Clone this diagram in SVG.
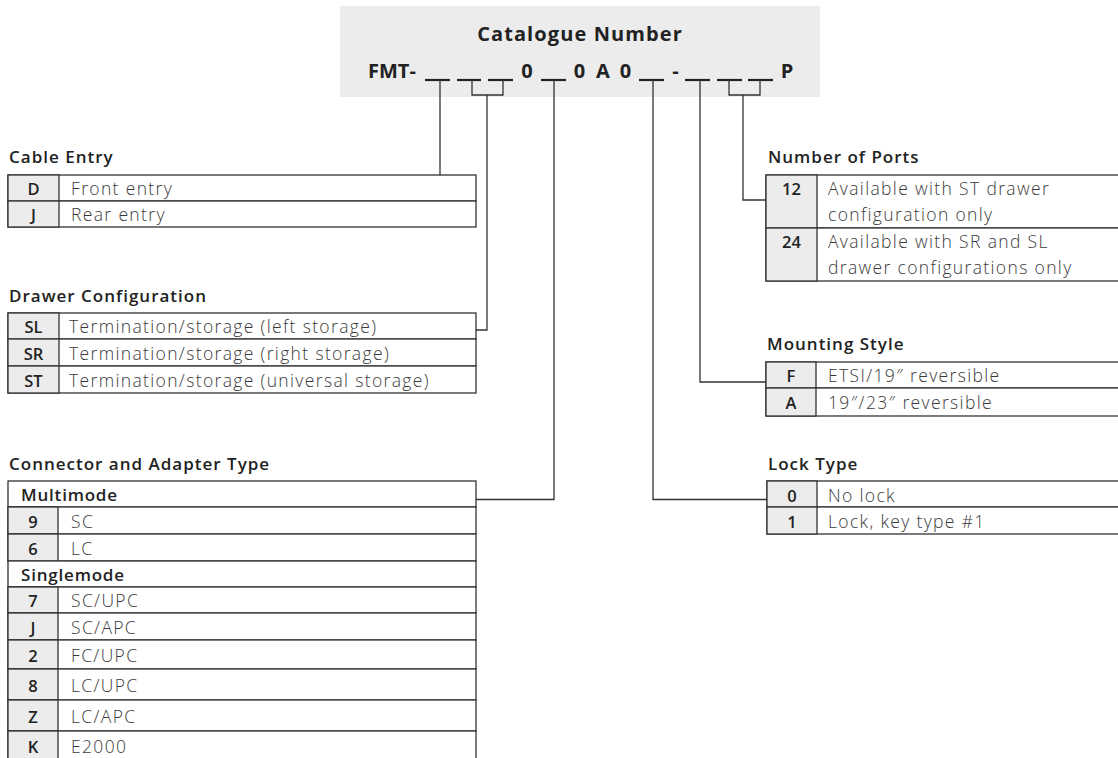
<svg xmlns="http://www.w3.org/2000/svg" width="1118" height="758" viewBox="0 0 1118 758">
<style>
.title{font-family:"Open Sans","Liberation Sans",sans-serif;font-weight:600;font-size:17px;fill:#222;letter-spacing:1px}
.code{font-family:"Open Sans","Liberation Sans",sans-serif;font-weight:600;font-size:16.5px;fill:#222;text-anchor:middle}
.body{font-family:"Open Sans","Liberation Sans",sans-serif;font-weight:300;font-size:17.5px;fill:#3a3a3a;letter-spacing:1.35px}
.grp{font-family:"Open Sans","Liberation Sans",sans-serif;font-weight:600;font-size:17px;fill:#222;letter-spacing:0.8px}
.hdr{font-family:"Open Sans","Liberation Sans",sans-serif;font-weight:700;font-size:20px;fill:#222}
.cell{fill:#fff;stroke:#333;stroke-width:1.3}
.codecell{fill:#ececec;stroke:#333;stroke-width:1.3}
.wire{fill:none;stroke:#333;stroke-width:1.3}
.blank{stroke:#222;stroke-width:2.2}
</style>
<rect width="1118" height="758" fill="#fff"/>

<g id="header">
  <rect x="340" y="6" width="480" height="91" fill="#ececec"/>
  <text class="hdr" x="580" y="41" text-anchor="middle" letter-spacing="1.1">Catalogue Number</text>
  <text class="hdr" x="368" y="78">FMT-</text>
  <line class="blank" x1="425" y1="80" x2="450" y2="80"/>
  <line class="blank" x1="457" y1="80" x2="481" y2="80"/>
  <line class="blank" x1="488" y1="80" x2="513" y2="80"/>
  <text class="hdr" x="527" y="78" text-anchor="middle">0</text>
  <line class="blank" x1="541" y1="80" x2="566" y2="80"/>
  <text class="hdr" x="579.5" y="78" text-anchor="middle">0</text>
  <text class="hdr" x="603" y="78" text-anchor="middle">A</text>
  <text class="hdr" x="625.5" y="78" text-anchor="middle">0</text>
  <line class="blank" x1="639" y1="80" x2="664" y2="80"/>
  <text class="hdr" x="675.5" y="78" text-anchor="middle">-</text>
  <line class="blank" x1="685" y1="80" x2="710" y2="80"/>
  <line class="blank" x1="717" y1="80" x2="742" y2="80"/>
  <line class="blank" x1="748" y1="80" x2="773" y2="80"/>
  <text class="hdr" x="787" y="78" text-anchor="middle">P</text>
</g>

<g id="connectors">
  <polyline class="wire" points="440,80 440,177"/>
  <polyline class="wire" points="472,80 472,95 503,95 503,80"/>
  <polyline class="wire" points="487,95 487,330 476,330"/>
  <polyline class="wire" points="554,80 554,499.5 476,499.5"/>
  <polyline class="wire" points="653,80 653,499.5 767,499.5"/>
  <polyline class="wire" points="700,80 700,382 766,382"/>
  <polyline class="wire" points="729,80 729,95 760,95 760,80"/>
  <polyline class="wire" points="743,95 743,200 766,200"/>
</g>

<g id="cable-entry">
  <text class="title" x="9" y="163">Cable Entry</text>
  <rect class="cell" x="8" y="175" width="468" height="26"/>
  <rect class="cell" x="8" y="201" width="468" height="26"/>
  <rect class="codecell" x="8" y="175" width="51" height="26"/>
  <rect class="codecell" x="8" y="201" width="51" height="26"/>
  <text class="code" x="33.5" y="195">D</text>
  <text class="body" x="71" y="195">Front entry</text>
  <text class="code" x="33.5" y="221">J</text>
  <text class="body" x="71" y="221">Rear entry</text>
</g>

<g id="drawer-configuration">
  <text class="title" x="9" y="302">Drawer Configuration</text>
  <rect class="cell" x="8" y="313" width="468" height="26"/>
  <rect class="cell" x="8" y="339" width="468" height="27"/>
  <rect class="cell" x="8" y="366" width="468" height="27"/>
  <rect class="codecell" x="8" y="313" width="51" height="26"/>
  <rect class="codecell" x="8" y="339" width="51" height="27"/>
  <rect class="codecell" x="8" y="366" width="51" height="27"/>
  <text class="code" x="33.5" y="333">SL</text>
  <text class="body" x="69" y="333">Termination/storage (left storage)</text>
  <text class="code" x="33.5" y="359.5">SR</text>
  <text class="body" x="69" y="359.5">Termination/storage (right storage)</text>
  <text class="code" x="33.5" y="386.5">ST</text>
  <text class="body" x="69" y="386.5">Termination/storage (universal storage)</text>
</g>

<g id="connector-adapter-type">
  <text class="title" x="9" y="470">Connector and Adapter Type</text>
  <rect class="cell" x="8" y="481" width="468" height="26"/>
  <text class="grp" x="21" y="501">Multimode</text>
  <rect class="cell" x="8" y="507" width="468" height="27"/>
  <rect class="codecell" x="8" y="507" width="50" height="27"/>
  <text class="code" x="33" y="527.5">9</text>
  <text class="body" x="71" y="527.5">SC</text>
  <rect class="cell" x="8" y="534" width="468" height="27"/>
  <rect class="codecell" x="8" y="534" width="50" height="27"/>
  <text class="code" x="33" y="554.5">6</text>
  <text class="body" x="71" y="554.5">LC</text>
  <rect class="cell" x="8" y="561" width="468" height="26"/>
  <text class="grp" x="21" y="581">Singlemode</text>
  <rect class="cell" x="8" y="587" width="468" height="26"/>
  <rect class="codecell" x="8" y="587" width="50" height="26"/>
  <text class="code" x="33" y="607">7</text>
  <text class="body" x="71" y="607">SC/UPC</text>
  <rect class="cell" x="8" y="613" width="468" height="27"/>
  <rect class="codecell" x="8" y="613" width="50" height="27"/>
  <text class="code" x="33" y="633.5">J</text>
  <text class="body" x="71" y="633.5">SC/APC</text>
  <rect class="cell" x="8" y="640" width="468" height="29"/>
  <rect class="codecell" x="8" y="640" width="50" height="29"/>
  <text class="code" x="33" y="661.5">2</text>
  <text class="body" x="71" y="661.5">FC/UPC</text>
  <rect class="cell" x="8" y="669" width="468" height="31"/>
  <rect class="codecell" x="8" y="669" width="50" height="31"/>
  <text class="code" x="33" y="691.5">8</text>
  <text class="body" x="71" y="691.5">LC/UPC</text>
  <rect class="cell" x="8" y="700" width="468" height="31"/>
  <rect class="codecell" x="8" y="700" width="50" height="31"/>
  <text class="code" x="33" y="722.5">Z</text>
  <text class="body" x="71" y="722.5">LC/APC</text>
  <rect class="cell" x="8" y="731" width="468" height="32"/>
  <rect class="codecell" x="8" y="731" width="50" height="32"/>
  <text class="code" x="33" y="752.5">K</text>
  <text class="body" x="71" y="752.5">E2000</text>
</g>

<g id="number-of-ports">
  <text class="title" x="768" y="163">Number of Ports</text>
  <rect class="cell" x="766" y="175" width="360" height="53"/>
  <rect class="cell" x="766" y="228" width="360" height="53"/>
  <rect class="codecell" x="766" y="175" width="51" height="53"/>
  <rect class="codecell" x="766" y="228" width="51" height="53"/>
  <text class="code" x="791.5" y="195">12</text>
  <text class="body" x="828" y="195">Available with ST drawer</text>
  <text class="body" x="828" y="221">configuration only</text>
  <text class="code" x="791.5" y="248">24</text>
  <text class="body" x="828" y="248">Available with SR and SL</text>
  <text class="body" x="828" y="274">drawer configurations only</text>
</g>

<g id="mounting-style">
  <text class="title" x="767" y="350">Mounting Style</text>
  <rect class="cell" x="766" y="362" width="360" height="26"/>
  <rect class="cell" x="766" y="388" width="360" height="28"/>
  <rect class="codecell" x="766" y="362" width="50" height="26"/>
  <rect class="codecell" x="766" y="388" width="50" height="28"/>
  <text class="code" x="791" y="382">F</text>
  <text class="body" x="828" y="382">ETSI/19″ reversible</text>
  <text class="code" x="791" y="409">A</text>
  <text class="body" x="828" y="409">19″/23″ reversible</text>
</g>

<g id="lock-type">
  <text class="title" x="768" y="470">Lock Type</text>
  <rect class="cell" x="767" y="481" width="360" height="26"/>
  <rect class="cell" x="767" y="507" width="360" height="27"/>
  <rect class="codecell" x="767" y="481" width="50" height="26"/>
  <rect class="codecell" x="767" y="507" width="50" height="27"/>
  <text class="code" x="792" y="501.5">0</text>
  <text class="body" x="828" y="501.5">No lock</text>
  <text class="code" x="792" y="528">1</text>
  <text class="body" x="828" y="528">Lock, key type #1</text>
</g>
</svg>
